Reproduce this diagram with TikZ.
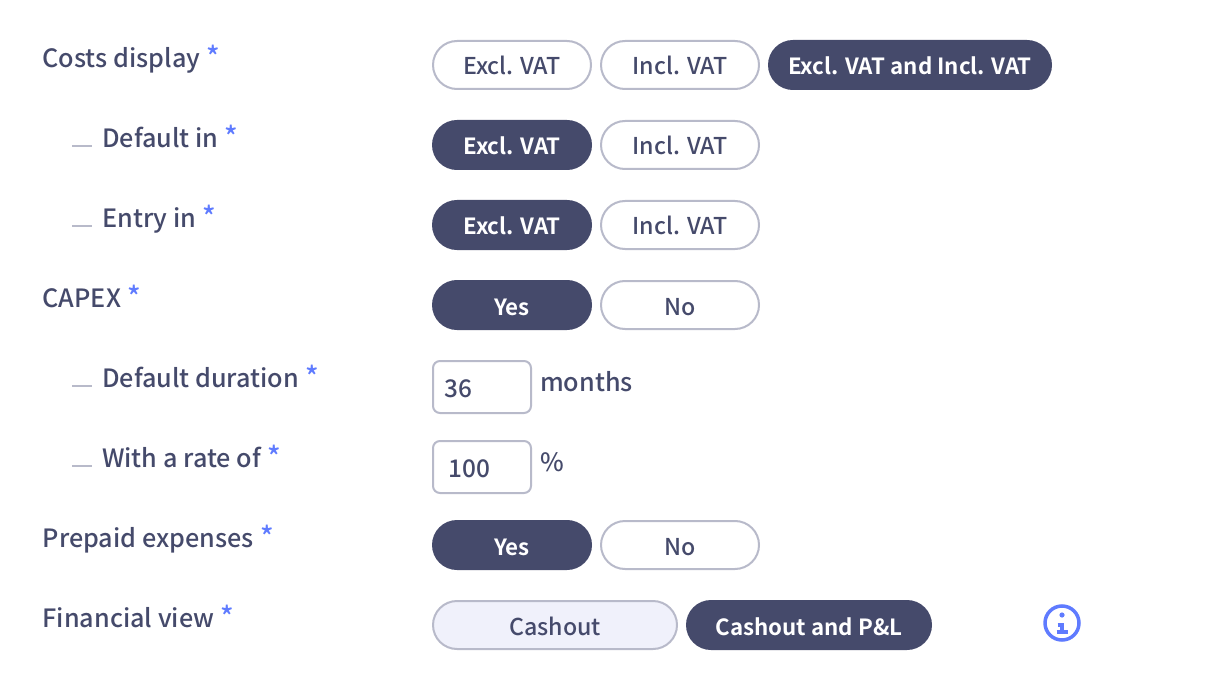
\documentclass[tikz,border=0pt]{standalone}
\usepackage{fontspec}
\setmainfont{Noto Sans CJK SC Medium}
\newfontfamily\pillbold{Noto Sans CJK SC Bold}
\usepackage{xcolor}
\definecolor{ink}{HTML}{454A6B}
\definecolor{edge}{HTML}{B8BACA}
\definecolor{pale}{HTML}{F0F1FB}
\definecolor{accent}{HTML}{5F7BFF}
\tikzset{
  lab/.style={text=ink, font=\fontsize{25.2}{30}\selectfont, inner sep=0pt, anchor=base west},
  req/.style={text=accent, font=\fontsize{28}{30}\selectfont, inner sep=0pt, anchor=base west},
  pill/.style={draw=edge, fill=white, line width=2pt, rounded corners=24pt, minimum height=48pt, inner sep=0pt, text=ink, font=\fontsize{23.2}{30}\selectfont, text height=20pt, text depth=0pt},
  pillon/.style={pill, draw=ink, fill=ink, text=white, font=\pillbold\fontsize{22.3}{30}\selectfont},
  pilloff/.style={pill, fill=pale},
  inputbox/.style={draw=edge, fill=white, line width=2pt, rounded corners=7pt, minimum width=98pt, minimum height=52pt, inner sep=0pt},
  valtxt/.style={lab, font=\fontsize{24.4}{30}\selectfont},
  tick/.style={draw=edge, line width=2pt},
}
\begin{document}
\begin{tikzpicture}[x=1pt,y=-1pt]
  \useasboundingbox (0,0) rectangle (1218,695);

  % labels
  \node[lab] (costs) at (42.5,67.5) {Costs display};
  \node[req] (costsreq) at ([xshift=6pt]costs.base east) {*};
  \node[lab] (default) at (102,147.5) {Default in};
  \node[req] (defaultreq) at ([xshift=6pt]default.base east) {*};
  \node[lab] (entry) at (102,227.5) {Entry in};
  \node[req] (entryreq) at ([xshift=6pt]entry.base east) {*};
  \node[lab] (capex) at (42.5,307.5) {CAPEX};
  \node[req] (capexreq) at ([xshift=6pt]capex.base east) {*};
  \node[lab] (duration) at (102,387.5) {Default duration};
  \node[req] (durationreq) at ([xshift=6pt]duration.base east) {*};
  \node[lab] (rate) at (102,467.5) {With a rate of};
  \node[req] (ratereq) at ([xshift=6pt]rate.base east) {*};
  \node[lab] (prepaid) at (42.5,547.5) {Prepaid expenses};
  \node[req] (prepaidreq) at ([xshift=6pt]prepaid.base east) {*};
  \node[lab] (view) at (42.5,627.5) {Financial view};
  \node[req] (viewreq) at ([xshift=6pt]view.base east) {*};

  % small dashes in front of the sub options
  \foreach \y in {146,226,386,466} {
    \coordinate (tl) at (72,\y);
    \coordinate (tr) at (92,\y);
    \draw[tick] (tl) -- (tr);
  }

  % pills
  \node[pill,minimum width=158pt] (costsexcl) at (512,65) {Excl. VAT};
  \node[pill,minimum width=158pt] (costsincl) at (680,65) {Incl. VAT};
  \node[pillon,minimum width=282pt] (costsboth) at (910,65) {Excl. VAT and Incl. VAT};
  \node[pillon,minimum width=158pt] (defaultexcl) at (512,145) {Excl. VAT};
  \node[pill,minimum width=158pt] (defaultincl) at (680,145) {Incl. VAT};
  \node[pillon,minimum width=158pt] (entryexcl) at (512,225) {Excl. VAT};
  \node[pill,minimum width=158pt] (entryincl) at (680,225) {Incl. VAT};
  \node[pillon,minimum width=158pt] (capexyes) at (512,305) {Yes};
  \node[pill,minimum width=158pt] (capexno) at (680,305) {No};
  \node[pillon,minimum width=158pt] (prepaidyes) at (512,545) {Yes};
  \node[pill,minimum width=158pt] (prepaidno) at (680,545) {No};
  \node[pilloff,minimum width=244pt] (viewcash) at (555,625) {Cashout};
  \node[pillon,minimum width=244pt] (viewboth) at (809,625) {Cashout and P\&L};

  % inputs
  \node[inputbox] (durationbox) at (482,387) {};
  \node[valtxt] (durationval) at (444,397) {36};
  \node[lab] (months) at (540,391) {months};
  \node[inputbox] (ratebox) at (482,467) {};
  \node[valtxt] (rateval) at (448,477) {100};
  \node[lab] (percent) at (540,471) {\%};

  % info icon
  \coordinate (infoc) at (1062,623);
  \draw[accent,line width=3.5pt] (infoc) circle (17);
  \fill[accent] (1062,615) circle (2.6);
  \draw[accent,line width=3.2pt] (1057.5,625) -- (1062,625) -- (1062,632);
  \draw[accent,line width=3.2pt] (1056.5,632) -- (1067.5,632);
\end{tikzpicture}
\end{document}
